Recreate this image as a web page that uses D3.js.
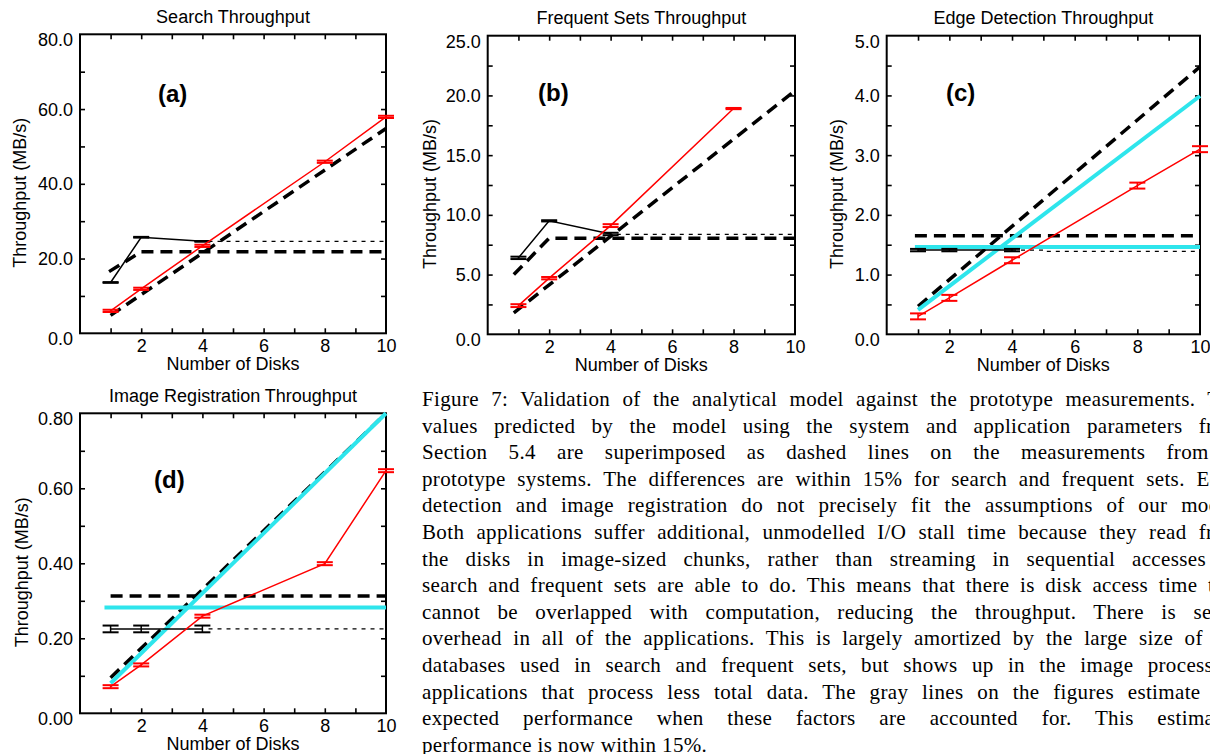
<!DOCTYPE html>
<html>
<head>
<meta charset="utf-8">
<script src="https://cdn.jsdelivr.net/npm/d3@7"></script>
<style>
  body { margin: 0; background: #fff; overflow: hidden; }
  svg text { fill: #000; }
</style>
</head>
<body>
<div id="fig"></div>
<script>
// Number of disks (x values)
const disks = [1, 2, 4, 8, 10];
const hostDisks = [1, 2, 4];

// (a) Search
const searchActive = [6.0, 11.9, 23.4, 45.9, 57.9];
const searchActiveErr = [0.3, 0.3, 0.3, 0.3, 0.3];
const searchHost = [13.6, 25.7, 24.6];
const searchHostErr = [0.1, 0.1, 0.1];
const searchModelActive = [[1, 4.8], [10, 54.8]];
const searchModelHost = [[0.95, 16.5], [2, 21.8], [10, 21.8]];
const searchHostExt = [[4.2, 24.6], [10, 24.6]];

// (b) Frequent sets
const freqActive = [2.4, 4.7, 9.1, 18.9];
const freqActiveErr = [0.12, 0.1, 0.12, 0.05];
const freqHost = [6.4, 9.5, 8.4];
const freqHostErr = [0.1, 0.05, 0.1];
const freqModelActive = [[0.85, 1.8], [10, 20.4]];
const freqModelHost = [[0.85, 5.0], [2, 8.05], [10, 8.05]];
const freqHostExt = [[4.2, 8.37], [10, 8.37]];

// (c) Edge detection
const edgeActive = [0.3, 0.61, 1.24, 2.49, 3.1];
const edgeActiveErr = [0.05, 0.05, 0.05, 0.05, 0.05];
const edgeHost = [1.41, 1.41, 1.41];
const edgeHostErr = [0.02, 0.02, 0.02];
const edgeModelActive = [[1, 0.47], [10, 4.48]];
const edgeModelHost = [[0.9, 1.65], [10, 1.65]];
const edgeHostExt = [[4, 1.41], [5.1, 1.41], [5.1, 1.39], [10, 1.39]];
const edgeGrayActive = [[1, 0.41], [10, 3.99]];
const edgeGrayHost = [[0.9, 1.46], [10, 1.46]];

// (d) Image registration
const regActive = [0.071, 0.129, 0.259, 0.399, 0.647];
const regActiveErr = [0.004, 0.004, 0.004, 0.004, 0.004];
const regHost = [0.225, 0.225, 0.225];
const regHostErr = [0.009, 0.009, 0.009];
const regModelActive = [[1, 0.095], [10, 0.80]];
const regModelHost = [[1, 0.313], [10, 0.313]];
const regHostExt = [[4.2, 0.225], [10, 0.225]];
const regGrayActive = [[1, 0.08], [10, 0.80]];
const regGrayHost = [[0.8, 0.282], [10, 0.282]];

// x tick labels
const xTickLabels = [2, 4, 6, 8, 10];

// caption lines
const caption = [
  "Figure 7: Validation of the analytical model against the prototype measurements. The",
  "values predicted by the model using the system and application parameters from",
  "Section\u00a05.4 are superimposed as dashed lines on the measurements from the",
  "prototype systems. The differences are within 15% for search and frequent sets. Edge",
  "detection and image registration do not precisely fit the assumptions of our model.",
  "Both applications suffer additional, unmodelled I/O stall time because they read from",
  "the disks in image-sized chunks, rather than streaming in sequential accesses as",
  "search and frequent sets are able to do. This means that there is disk access time that",
  "cannot be overlapped with computation, reducing the throughput. There is serial",
  "overhead in all of the applications. This is largely amortized by the large size of the",
  "databases used in search and frequent sets, but shows up in the image processing",
  "applications that process less total data. The gray lines on the figures estimate the",
  "expected performance when these factors are accounted for. This estimated",
  "performance is now within 15%."
];

const SANS = "'Liberation Sans', Arial, Helvetica, sans-serif";
const SERIF = "'Liberation Serif', 'Times New Roman', Times, serif";
const GRAY = "#2ee5ec";

const panels = [
  { title: "Search Throughput", label: "(a)", labelAt: [2.55, 62],
    box: [80, 34.3, 386, 333.3], yMax: 80, yMajor: 20, yMinor: 10, fmt: ".1f", ylabOff: 54,
    active: searchActive, activeErr: searchActiveErr, host: searchHost, hostErr: searchHostErr,
    modelActive: searchModelActive, modelHost: searchModelHost, hostExt: searchHostExt },
  { title: "Frequent Sets Throughput", label: "(b)", labelAt: [1.64, 19.5],
    box: [487.7, 35.7, 795, 334.3], yMax: 25, yMajor: 5, yMinor: 2.5, fmt: ".1f", ylabOff: 52,
    active: freqActive, activeErr: freqActiveErr, host: freqHost, hostErr: freqHostErr,
    modelActive: freqModelActive, modelHost: freqModelHost, hostExt: freqHostExt },
  { title: "Edge Detection Throughput", label: "(c)", labelAt: [1.89, 3.9],
    box: [886.7, 35.7, 1200, 334.3], yMax: 5, yMajor: 1, yMinor: 0.5, fmt: ".1f", ylabOff: 44,
    active: edgeActive, activeErr: edgeActiveErr, host: edgeHost, hostErr: edgeHostErr,
    modelActive: edgeModelActive, modelHost: edgeModelHost, hostExt: edgeHostExt,
    grayActive: edgeGrayActive, grayHost: edgeGrayHost },
  { title: "Image Registration Throughput", label: "(d)", labelAt: [2.42, 0.6],
    box: [80, 413.3, 386, 713.3], yMax: 0.8, yMajor: 0.2, yMinor: 0.1, fmt: ".2f", ylabOff: 52,
    active: regActive, activeErr: regActiveErr, host: regHost, hostErr: regHostErr,
    modelActive: regModelActive, modelHost: regModelHost, hostExt: regHostExt,
    grayActive: regGrayActive, grayHost: regGrayHost }
];

const svg = d3.select("#fig").append("svg")
  .attr("width", 1210)
  .attr("height", 754);

function ticksTo(max, step) {
  const n = Math.round(max / step);
  return d3.range(0, n + 1).map(i => +(i * step).toFixed(4));
}

function drawPanel(p) {
  const [x0, y0, x1, y1] = p.box;
  const x = d3.scaleLinear().domain([0, 10]).range([x0, x1]);
  const y = d3.scaleLinear().domain([0, p.yMax]).range([y1, y0]);
  const g = svg.append("g");
  const line = d3.line().x(d => x(d[0])).y(d => y(d[1]));

  // tick marks on all four sides, pointing inward
  const minor = ticksTo(p.yMax, p.yMinor).slice(1, -1);
  const xMinor = d3.range(1, 10);
  const tickAxes = [
    [d3.axisLeft(y).tickValues(minor), `translate(${x0},0)`],
    [d3.axisRight(y).tickValues(minor), `translate(${x1},0)`],
    [d3.axisBottom(x).tickValues(xMinor), `translate(0,${y1})`],
    [d3.axisTop(x).tickValues(xMinor), `translate(0,${y0})`]
  ];
  tickAxes.forEach(([ax, tr]) => {
    const a = g.append("g").attr("transform", tr)
      .call(ax.tickSize(-5).tickFormat(""));
    a.select(".domain").remove();
    a.selectAll("line").attr("stroke", "#000").attr("stroke-width", 1.6);
  });

  // tick labels
  const major = ticksTo(p.yMax, p.yMajor);
  const yl = g.append("g").attr("transform", `translate(${x0},0)`)
    .call(d3.axisLeft(y).tickValues(major).tickSize(0).tickPadding(7).tickFormat(d3.format(p.fmt)));
  yl.select(".domain").remove();
  yl.selectAll("text")
    .attr("font-family", SANS).attr("font-size", 18).attr("fill", "#000")
    .attr("dy", (d, i) => (i === 0 || i === major.length - 1) ? "0.64em" : "0.34em");

  const xl = g.append("g").attr("transform", `translate(0,${y1})`)
    .call(d3.axisBottom(x).tickValues(xTickLabels).tickSize(0).tickPadding(6).tickFormat(d3.format("d")));
  xl.select(".domain").remove();
  xl.selectAll("text").attr("font-family", SANS).attr("font-size", 18).attr("fill", "#000");

  // frame
  g.append("rect")
    .attr("x", x0).attr("y", y0)
    .attr("width", x1 - x0).attr("height", y1 - y0)
    .attr("fill", "none").attr("stroke", "#000").attr("stroke-width", 2);

  // titles
  g.append("text")
    .attr("x", (x0 + x1) / 2).attr("y", y0 - 11.5)
    .attr("text-anchor", "middle")
    .attr("font-family", SANS).attr("font-size", 18)
    .text(p.title);
  g.append("text")
    .attr("x", (x0 + x1) / 2).attr("y", y1 + 36.5)
    .attr("text-anchor", "middle")
    .attr("font-family", SANS).attr("font-size", 18)
    .text("Number of Disks");
  g.append("text")
    .attr("transform", `translate(${x0 - p.ylabOff},${(y0 + y1) / 2 + 9}) rotate(-90)`)
    .attr("text-anchor", "middle")
    .attr("font-family", SANS).attr("font-size", 18)
    .text("Throughput (MB/s)");
  g.append("text")
    .attr("x", x(p.labelAt[0])).attr("y", y(p.labelAt[1]))
    .attr("font-family", SANS).attr("font-size", 24).attr("font-weight", "bold")
    .text(p.label);

  // model predictions (thick dashed)
  [p.modelActive, p.modelHost].forEach(d => {
    g.append("path").attr("d", line(d))
      .attr("fill", "none").attr("stroke", "#000")
      .attr("stroke-width", 3.5).attr("stroke-dasharray", "12,7");
  });

  // extension of host measurement (thin dashed)
  g.append("path").attr("d", line(p.hostExt))
    .attr("fill", "none").attr("stroke", "#000")
    .attr("stroke-width", 1.3).attr("stroke-dasharray", "4,5");

  // gray estimate lines
  if (p.grayActive) {
    [p.grayActive, p.grayHost].forEach(d => {
      g.append("path").attr("d", line(d))
        .attr("fill", "none").attr("stroke", GRAY).attr("stroke-width", 4);
    });
  }

  // measurements with error bars
  const series = [
    { xs: hostDisks, ys: p.host, err: p.hostErr, color: "#000" },
    { xs: disks.slice(0, p.active.length), ys: p.active, err: p.activeErr, color: "#ff0000" }
  ];
  series.forEach(s => {
    const pts = s.xs.map((v, i) => [v, s.ys[i], s.err[i]]);
    g.append("path").attr("d", line(pts))
      .attr("fill", "none").attr("stroke", s.color).attr("stroke-width", 1.5);
    const eb = g.append("g").selectAll("g").data(pts).join("g");
    eb.append("line")
      .attr("x1", d => x(d[0])).attr("x2", d => x(d[0]))
      .attr("y1", d => y(d[1] - d[2])).attr("y2", d => y(d[1] + d[2]))
      .attr("stroke", s.color).attr("stroke-width", 1.5);
    [-1, 1].forEach(sgn => {
      eb.append("line")
        .attr("x1", d => x(d[0]) - 8).attr("x2", d => x(d[0]) + 8)
        .attr("y1", d => y(d[1] + sgn * d[2])).attr("y2", d => y(d[1] + sgn * d[2]))
        .attr("stroke", s.color).attr("stroke-width", 2);
    });
  });
}

panels.forEach(drawPanel);

// caption, justified between left edge and right edge
const capLeft = 422, capRight = 1241, capTop = 406, capStep = 26.6;
const cap = svg.append("g");
caption.forEach((t, i) => {
  const txt = cap.append("text")
    .attr("x", capLeft).attr("y", capTop + i * capStep)
    .attr("font-family", SERIF).attr("font-size", 21)
    .attr("letter-spacing", 0.35)
    .text(t);
  if (i < caption.length - 1) {
    const w = txt.node().getComputedTextLength();
    const spaces = (t.match(/ /g) || []).length;
    if (spaces > 0) txt.attr("word-spacing", Math.max(0, (capRight - capLeft - w) / spaces));
  }
});
</script>
</body>
</html>
